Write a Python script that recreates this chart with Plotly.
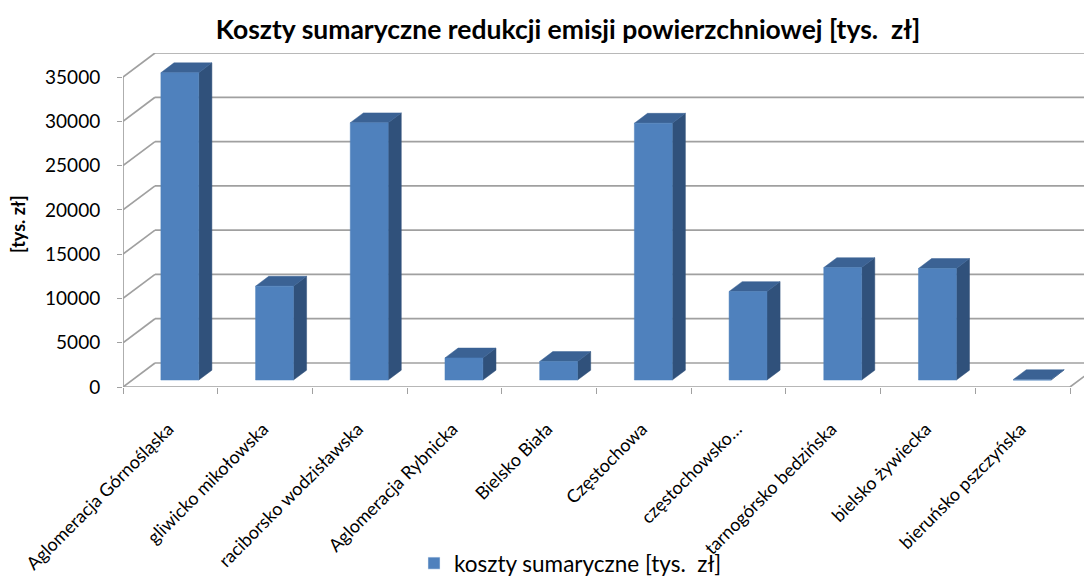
"""Excel-style 3D column chart: surface emission reduction costs per zone."""

import plotly.graph_objects as go

categories = [
    "Aglomeracja Górnośląska",
    "gliwicko mikołowska",
    "raciborsko wodzisławska",
    "Aglomeracja Rybnicka",
    "Bielsko Biała",
    "Częstochowa",
    "częstochowsko…",
    "tarnogórsko bedzińska",
    "bielsko żywiecka",
    "bieruńsko pszczyńska",
]
koszty = [34700, 10600, 29050, 2500, 2100, 29000, 10000, 12700, 12600, 50]
y_ticks = [0, 5000, 10000, 15000, 20000, 25000, 30000, 35000]

series_name = "koszty sumaryczne [tys.  zł]"

# oblique projection, in data units (x: categories, y: tys. zł)
WALL_DX = 0.338
WALL_DY = 2710
BAR_F0 = 0.29      # where the bars start inside the floor depth
BAR_FD = 0.41      # bar depth as a share of floor depth
BAR_W = 0.40
BAR_SHIFT = 0.10
LABEL_SHIFT = -0.02

FRONT = "#4F81BD"
SIDE = "#30517B"
TOP = "#3B6294"
GRID = "#A0A0A0"

# page body keeps an 8px margin, so the figure is 8px smaller each way
W, H = 1084, 577
PLOT_L, PLOT_T, PLOT_B = 115, 45, 379

n = len(categories)
x_left_edge = -0.5
x_right_edge = n - 0.5

fig = go.Figure()

# back wall gridlines
gx, gy = [], []
for v in y_ticks:
    gx += [x_left_edge + WALL_DX, x_right_edge + WALL_DX, None]
    gy += [v + WALL_DY, v + WALL_DY, None]
fig.add_trace(go.Scatter(x=gx, y=gy, mode="lines", line=dict(color=GRID, width=1.7),
                         showlegend=False, hoverinfo="skip"))

# side wall gridlines
sx, sy = [], []
for v in y_ticks:
    sx += [x_left_edge, x_left_edge + WALL_DX, None]
    sy += [v, v + WALL_DY, None]
fig.add_trace(go.Scatter(x=sx, y=sy, mode="lines", line=dict(color=GRID, width=1.7),
                         showlegend=False, hoverinfo="skip"))

# front value axis and floor edges
fig.add_trace(go.Scatter(
    x=[x_left_edge, x_left_edge, None, x_left_edge, x_right_edge, x_right_edge + WALL_DX],
    y=[0, y_ticks[-1], None, 0, 0, WALL_DY],
    mode="lines", line=dict(color=GRID, width=1.7),
    showlegend=False, hoverinfo="skip",
))

# column faces
base = BAR_F0 * WALL_DY
ddx = BAR_FD * WALL_DX
ddy = BAR_FD * WALL_DY
fx, fy, px_, py_, tx, ty = [], [], [], [], [], []
for i, v in enumerate(koszty):
    left = i + BAR_SHIFT - BAR_W / 2
    right = i + BAR_SHIFT + BAR_W / 2
    top = base + v
    fx += [left, right, right, left, left, None]
    fy += [base, base, top, top, base, None]
    px_ += [right, right + ddx, right + ddx, right, right, None]
    py_ += [base, base + ddy, top + ddy, top, base, None]
    tx += [left, right, right + ddx, left + ddx, left, None]
    ty += [top, top, top + ddy, top + ddy, top, None]

for xs, ys, col in [(px_, py_, SIDE), (tx, ty, TOP), (fx, fy, FRONT)]:
    fig.add_trace(go.Scatter(x=xs, y=ys, mode="lines", fill="toself", fillcolor=col,
                             line=dict(color=col, width=0.5),
                             showlegend=False, hoverinfo="skip"))

# legend entry
fig.add_trace(go.Bar(x=[None], y=[None], name=series_name, marker_color=FRONT))

plot_w = W - PLOT_L
plot_h = PLOT_B - PLOT_T
px_per_cat = 94.7
px_per_unit = 0.008857

fig.update_layout(
    width=W,
    height=H,
    margin=dict(l=PLOT_L, r=0, t=PLOT_T, b=H - PLOT_B, autoexpand=False),
    plot_bgcolor="white",
    paper_bgcolor="white",
    font=dict(family="Lato, sans-serif", size=18, color="black"),
    title=dict(
        text="<b>Koszty sumaryczne redukcji emisji powierzchniowej [tys.  zł]</b>",
        font=dict(size=26.5),
        xref="container", x=560 / W, xanchor="center",
        yref="container", y=1 - 22 / H, yanchor="middle",
    ),
    showlegend=True,
    legend=dict(
        orientation="h",
        xref="container", x=406 / W, xanchor="left",
        yref="container", y=-0.012, yanchor="bottom",
        font=dict(size=22.5),
        bgcolor="rgba(0,0,0,0)",
        itemwidth=30,
    ),
    xaxis=dict(
        range=[x_left_edge, x_left_edge + plot_w / px_per_cat],
        tickmode="array",
        tickvals=[k + LABEL_SHIFT for k in range(n)],
        ticktext=categories,
        tickangle=-45,
        ticks="",
        ticklabelstandoff=27,
        tickfont=dict(size=18),
        minor=dict(tickmode="array", tickvals=[k - 0.5 for k in range(n + 1)],
                   ticks="outside", ticklen=6, tickcolor=GRID, showgrid=False),
        showgrid=False,
        zeroline=False,
        showline=False,
        automargin=False,
        fixedrange=True,
    ),
    yaxis=dict(
        range=[0, plot_h / px_per_unit],
        tickmode="array",
        tickvals=y_ticks,
        ticktext=[str(v) for v in y_ticks],
        ticks="outside",
        ticklen=5,
        tickcolor=GRID,
        ticklabelstandoff=13,
        tickfont=dict(size=19),
        showgrid=False,
        zeroline=False,
        showline=False,
        automargin=False,
        fixedrange=True,
    ),
    annotations=[dict(
        text="<b>[tys. zł]</b>",
        textangle=-90,
        xref="paper", yref="paper",
        x=(10 - PLOT_L) / plot_w, y=(PLOT_B - 216) / plot_h,
        xanchor="center", yanchor="middle",
        showarrow=False,
        font=dict(size=18),
    )],
)

fig.write_html("out.html")
